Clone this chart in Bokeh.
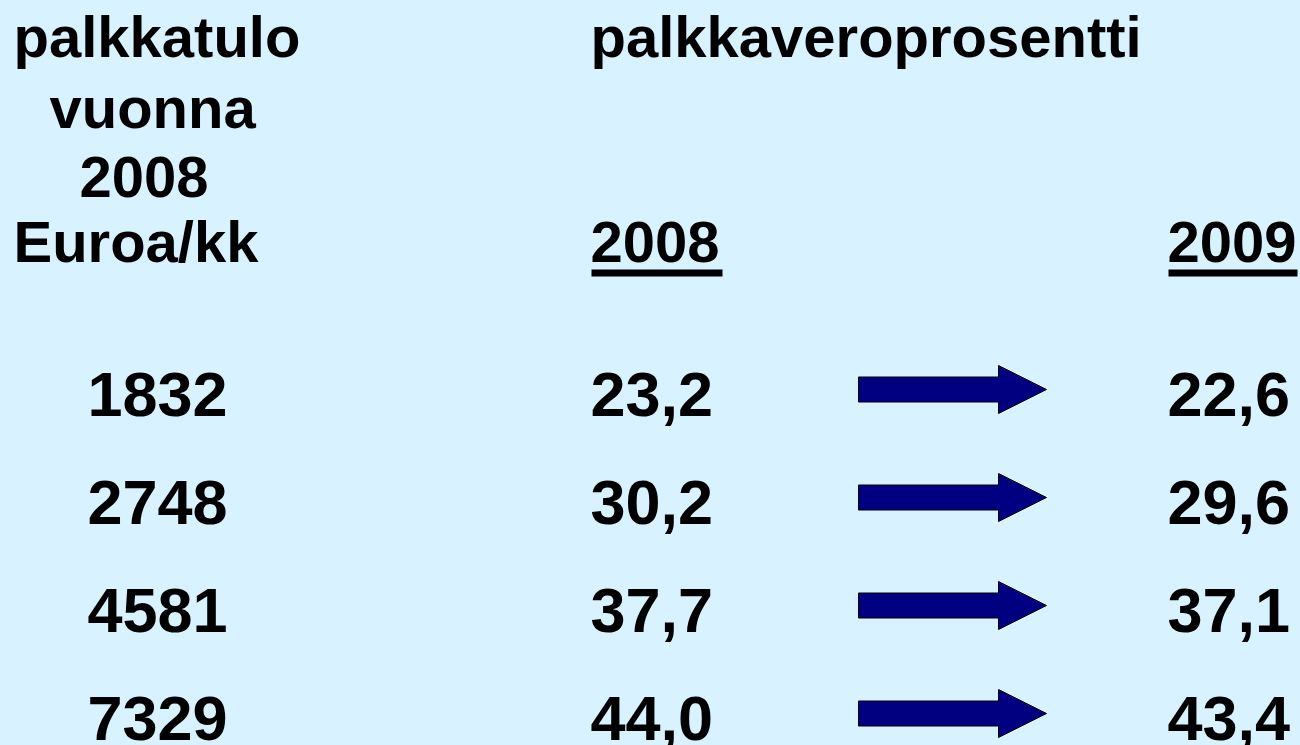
from bokeh.plotting import figure
from bokeh.models import Range1d, ColumnDataSource
from bokeh.core.properties import value
from bokeh.embed import file_html
from bokeh.resources import INLINE

# ---- data ----
header_left = ["palkkatulo", "vuonna", "2008", "Euroa/kk"]
header_mid = "palkkaveroprosentti"
year_a = "2008"
year_b = "2009"
incomes = ["1832", "2748", "4581", "7329"]
tax_2008 = ["23,2", "30,2", "37,7", "44,0"]
tax_2009 = ["22,6", "29,6", "37,1", "43,4"]

BG = "#D9F2FF"
FONT = value("Liberation Sans")

W, H = 1300, 745
p = figure(width=W, height=H, output_backend="svg", toolbar_location=None,
           x_range=Range1d(0, W), y_range=Range1d(H, 0),
           min_border=0, background_fill_color=BG, border_fill_color=BG,
           outline_line_color=None)
p.axis.visible = False
p.grid.visible = False

CENTRAL = 0.3465  # (ascent - descent)/2 of Liberation Sans, in em

def txt(x, baselines, t, size):
    y = [b - CENTRAL * size for b in baselines]
    src = ColumnDataSource(dict(x=x, y=y, t=t))
    p.text(x="x", y="y", text="t", source=src, text_font=FONT,
           text_font_style="bold", text_font_size="%dpx" % size, text_color="black",
           text_align="left", text_baseline="middle")

HS = 58
NS = 63
# left header (stacked lines)
txt([13, 49, 79, 13], [56, 127, 197, 261], header_left, HS)
# middle header
txt([590], [56], [header_mid], HS)
# year headers
txt([590, 1167], [262, 262], [year_a, year_b], HS)
p.quad(left=[591, 1168], right=[722, 1297], top=[269, 269], bottom=[276, 276],
       fill_color="black", line_color=None)

# rows
row_base = [416 + 108 * i for i in range(len(incomes))]
txt([87] * len(incomes), row_base, incomes, NS)
txt([590] * len(tax_2008), row_base, tax_2008, NS)
txt([1167] * len(tax_2009), row_base, tax_2009, NS)

# arrows
xs, ys = [], []
for b in row_base:
    c = b - 27
    xs.append([858, 998, 998, 1046, 998, 998, 858])
    ys.append([c - 12.5, c - 12.5, c - 24, c, c + 24, c + 12.5, c + 12.5])
p.patches(xs, ys, fill_color="#000080", line_color="black", line_width=1)

html = file_html(p, INLINE)
html = html.replace("<head>", "<head><style>html,body{margin:0;padding:0;background:%s;overflow:hidden;}</style>" % BG, 1)
open("out.html", "w").write(html)
